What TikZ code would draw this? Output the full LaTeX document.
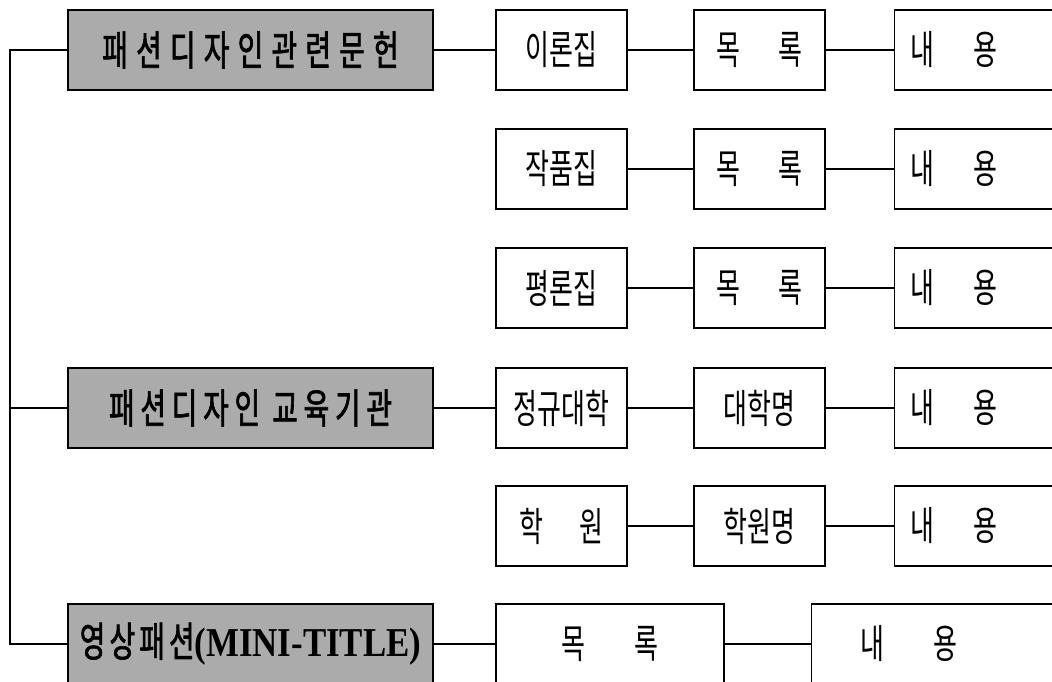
\documentclass[tikz,border=0pt]{standalone}
\usepackage{fontspec}
\setmainfont{Liberation Serif}
\newfontfamily\kr[FakeStretch=0.65]{Noto Sans CJK KR}
\newfontfamily\krg[FakeStretch=0.68,FakeBold=1.5,LetterSpace=20]{Noto Sans CJK KR}
\newfontfamily\lat[FakeStretch=0.85]{Liberation Serif}
\begin{document}
\begin{tikzpicture}[x=1pt,y=-1pt,
  gbox/.style={draw, line width=1.2pt, fill=black!33, minimum width=365pt, minimum height=80pt, inner sep=0pt, font=\krg\fontsize{41}{44}\selectfont},
  wbox/.style={draw, line width=1.2pt, fill=white, minimum width=131pt, minimum height=80pt, inner sep=0pt, font=\kr\fontsize{40}{44}\selectfont},
  cbox/.style={wbox, anchor=west, text width=200pt, align=left, inner xsep=16pt},
  link/.style={line width=1.2pt}]
\useasboundingbox (0,0) rectangle (1052,682);
\clip (0,0) rectangle (1052,682);
\coordinate (sp) at (10,0);
% left column
\node[gbox] (g1) at (250.5,50) {패션디자인관련문헌};
\node[gbox] (g2) at (250.5,408) {\addfontfeature{LetterSpace=14}패션디자인 교육기관};
\node[gbox] (g3) at (250.5,644) {\addfontfeature{LetterSpace=10}영상패션{\lat\bfseries\addfontfeature{LetterSpace=0} (MINI-TITLE)}};
% rows
\node[wbox] (a1) at (561.5,50) {이론집};
\node[wbox] (b1) at (759.5,50) {목\hspace{38pt}록};
\node[cbox] (c1) at (894,50) {내\hspace{39pt}용};
\node[wbox] (a2) at (561.5,169) {작품집};
\node[wbox] (b2) at (759.5,169) {목\hspace{38pt}록};
\node[cbox] (c2) at (894,169) {내\hspace{39pt}용};
\node[wbox] (a3) at (561.5,288) {평론집};
\node[wbox] (b3) at (759.5,288) {목\hspace{38pt}록};
\node[cbox] (c3) at (894,288) {내\hspace{39pt}용};
\node[wbox] (a4) at (561.5,408) {정규대학};
\node[wbox] (b4) at (759.5,408) {대학명};
\node[cbox] (c4) at (894,408) {내\hspace{39pt}용};
\node[wbox] (a5) at (561.5,526) {학\hspace{36pt}원};
\node[wbox] (b5) at (759.5,526) {학원명};
\node[cbox] (c5) at (894,526) {내\hspace{39pt}용};
\node[wbox, minimum width=228pt] (a6) at (610,644) {목\hspace{49pt}록};
\node[cbox, inner xsep=49pt] (c6) at (811,644) {내\hspace{49pt}용};
% connectors
\draw[link] (g1) -- (a1) (a1) -- (b1) (b1) -- (c1);
\draw[link] (a2) -- (b2) (b2) -- (c2);
\draw[link] (a3) -- (b3) (b3) -- (c3);
\draw[link] (g2) -- (a4) (a4) -- (b4) (b4) -- (c4);
\draw[link] (a5) -- (b5) (b5) -- (c5);
\draw[link] (g3) -- (a6) (a6) -- (c6);
\draw[link] (g1.west) -- (g1.west -| sp) -- (g3.west -| sp) -- (g3.west);
\draw[link] (g2.west) -- (g2.west -| sp);
\end{tikzpicture}
\end{document}
